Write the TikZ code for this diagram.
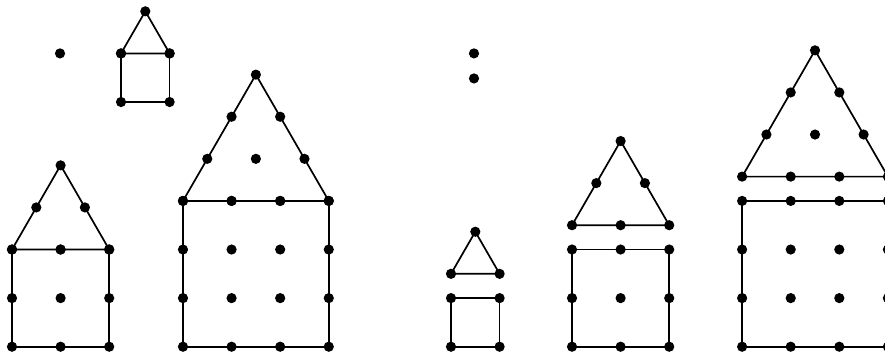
\documentclass[tikz,border=0pt]{standalone}
\usepackage{tikz}
\usetikzlibrary{calc}
\tikzset{
  edge/.style={line width=1pt, black, line join=round},
  peg/.style={fill=black}
}

\begin{document}
\begin{tikzpicture}
  \useasboundingbox (0,0) rectangle (18.21,7.284);
  \pgfmathsetmacro{\hh}{sqrt(3)/2}
  \def\rr{0.105}
  % houses: lower left corner x0/y0, side n, gap g between square and roof
  \foreach \xo/\yo/\n/\g in {2.49/5.185/1/0, 0.247/0.15/2/0, 3.765/0.15/3/0,
                             9.28/0.15/1/0.5, 11.77/0.15/2/0.5, 15.27/0.15/3/0.5}{
    \pgfmathsetmacro{\yb}{\yo+\n+\g}
    % square part
    \draw[edge] (\xo,\yo) rectangle ({\xo+\n},{\yo+\n});
    % roof
    \draw[edge] (\xo,\yb) -- ({\xo+\n},\yb) -- ({\xo+\n/2},{\yb+\n*\hh}) -- cycle;
    % square grid of pegs
    \foreach \i in {0,...,\n}{
      \foreach \j in {0,...,\n}{
        \fill[peg] ({\xo+\i},{\yo+\j}) circle (\rr);
      }
    }
    % triangular grid of pegs, row k from the base
    \foreach \k in {0,...,\n}{
      \pgfmathtruncatemacro{\m}{\n-\k}
      \foreach \i in {0,...,\m}{
        \fill[peg] ({\xo+\i+\k/2},{\yb+\k*\hh}) circle (\rr);
      }
    }
  }
  % the single pegs
  \fill[peg] (1.235,6.185) circle (\rr);
  \fill[peg] (9.753,6.185) circle (\rr);
  \fill[peg] (9.753,5.67) circle (\rr);
\end{tikzpicture}
\end{document}
